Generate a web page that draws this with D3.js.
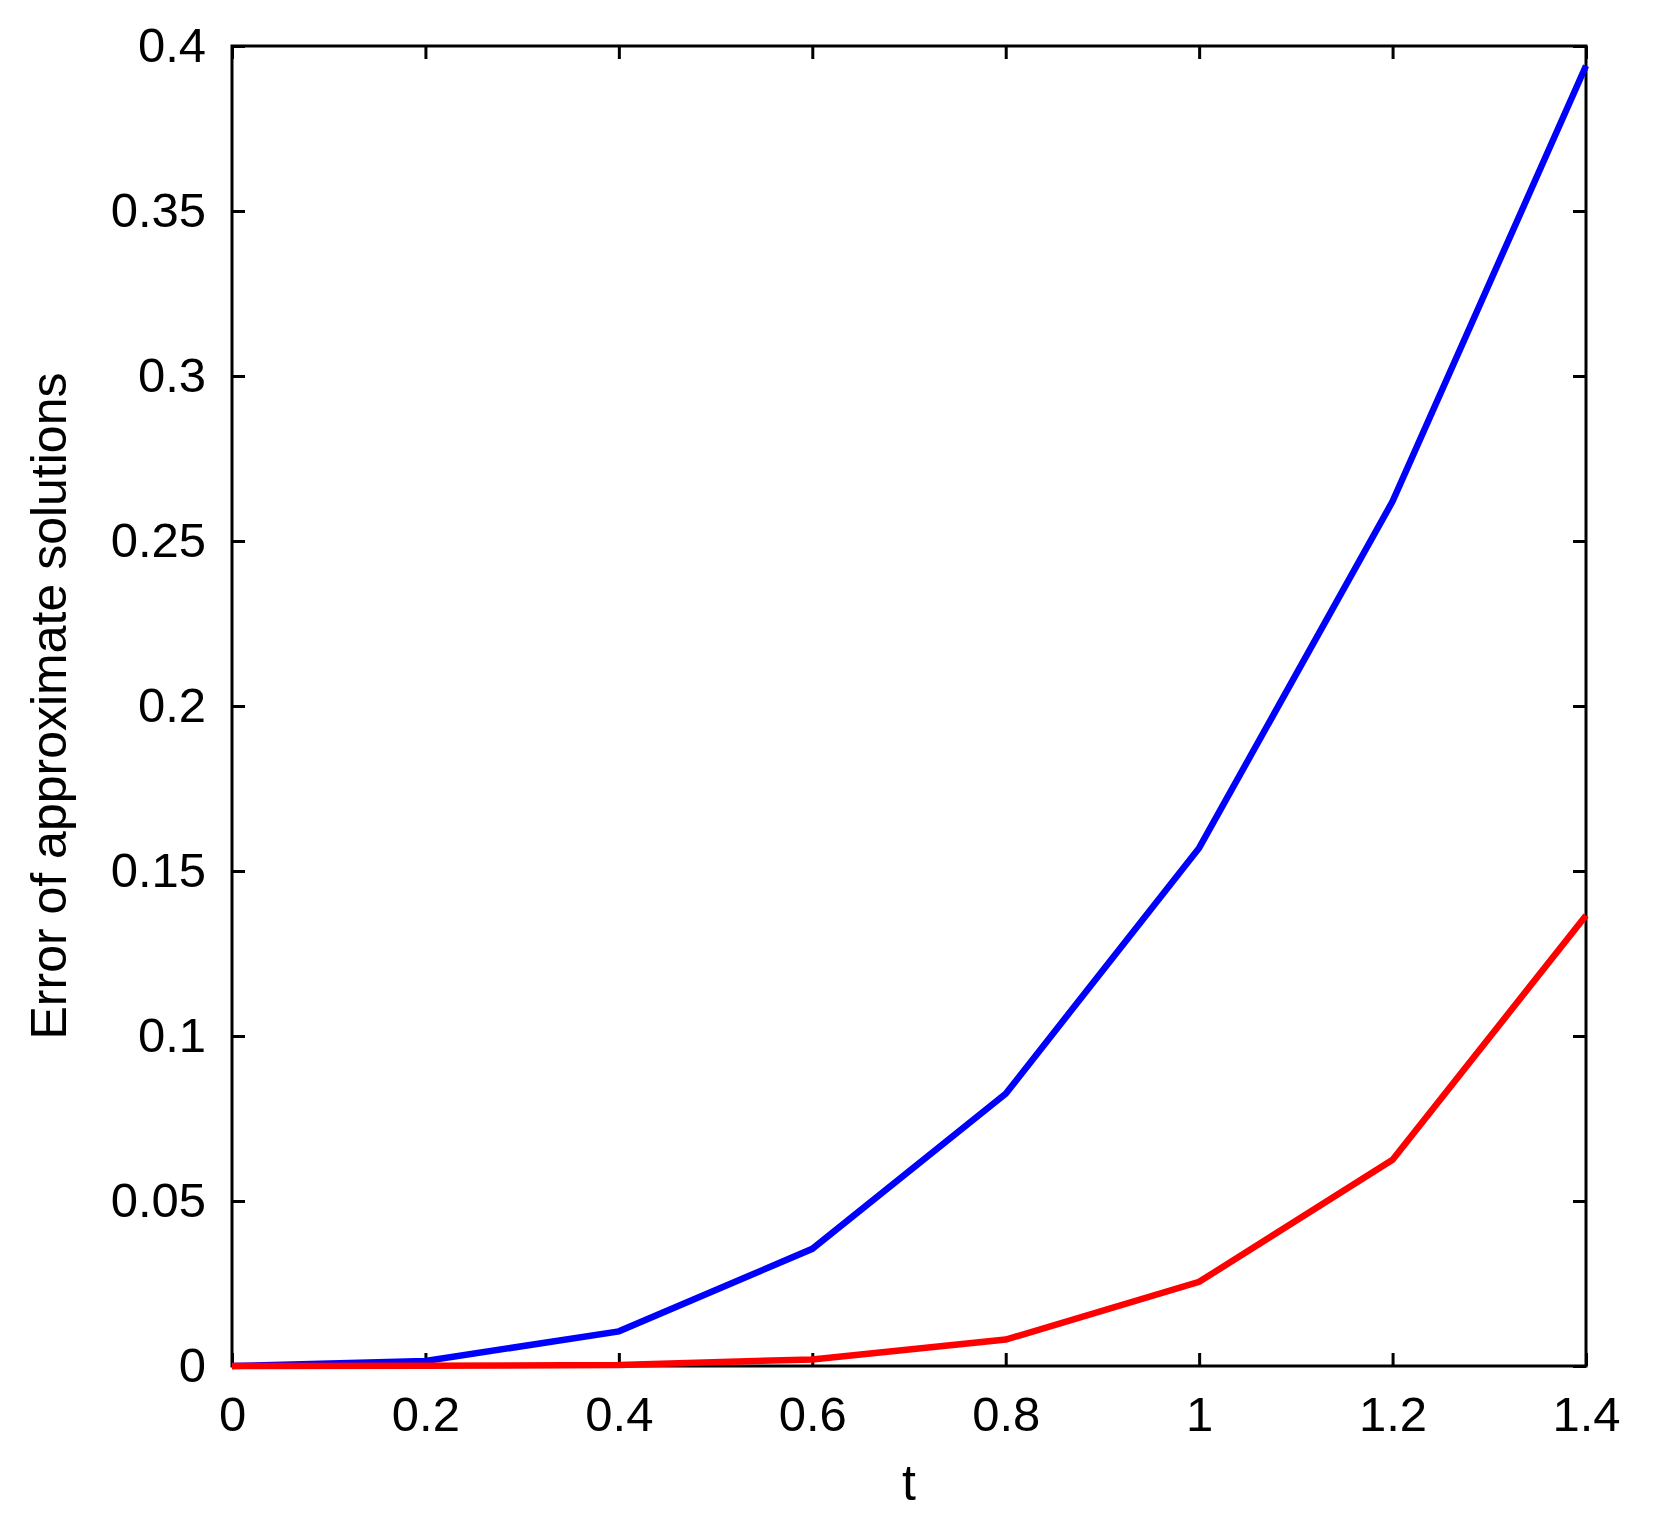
<!DOCTYPE html><html><head><meta charset="utf-8"><script src="https://cdn.jsdelivr.net/npm/d3@7"></script>
<style>body{margin:0;background:#fff}svg text{font-family:Helvetica,"Liberation Sans",Arial,sans-serif}</style></head><body><svg id="c" width="1661" height="1525"></svg><script>
const tValues=[0,0.2,0.4,0.6,0.8,1.0,1.2,1.4];
const blueErr=[0,0.0015,0.0105,0.0355,0.0825,0.157,0.262,0.394];
const redErr=[0,0.0001,0.0003,0.002,0.008,0.0255,0.0625,0.1365];
const xTicks=[0,0.2,0.4,0.6,0.8,1,1.2,1.4];
const yTicks=[0,0.05,0.1,0.15,0.2,0.25,0.3,0.35,0.4];
const L=232,R=1586,T=46,B=1366;
const svg=d3.select("#c");
const x=d3.scaleLinear().domain([0,1.4]).range([L,R]);
const y=d3.scaleLinear().domain([0,0.4]).range([B,T]);
const fmt=d=>String(d);
const g=svg.append("g");
function ax(gen,tr){const a=g.append("g").attr("transform",tr).call(gen);a.select(".domain").remove();a.selectAll("line").attr("stroke","#000").attr("stroke-width",3);a.selectAll("text").attr("font-size",49).attr("fill","#000");return a;}
ax(d3.axisBottom(x).tickValues(xTicks).tickFormat(fmt).tickSizeInner(-13).tickPadding(30),`translate(0,${B})`);
ax(d3.axisTop(x).tickValues(xTicks).tickFormat("").tickSizeInner(-13),`translate(0,${T})`);
ax(d3.axisLeft(y).tickValues(yTicks).tickFormat(fmt).tickSizeInner(-13).tickPadding(26),`translate(${L},0)`);
ax(d3.axisRight(y).tickValues(yTicks).tickFormat("").tickSizeInner(-13),`translate(${R},0)`);
g.append("rect").attr("x",L).attr("y",T).attr("width",R-L).attr("height",B-T).attr("fill","none").attr("stroke","#000").attr("stroke-width",3);
const line=d3.line().x((d,i)=>x(tValues[i])).y(d=>y(d));
svg.append("path").datum(blueErr).attr("d",line).attr("fill","none").attr("stroke","#0000ff").attr("stroke-width",6.5);
svg.append("path").datum(redErr).attr("d",line).attr("fill","none").attr("stroke","#ff0000").attr("stroke-width",6.5);
svg.append("text").attr("x",(L+R)/2).attr("y",1500).attr("text-anchor","middle").attr("font-size",50).text("t");
svg.append("text").attr("transform",`translate(66,${(T+B)/2}) rotate(-90)`).attr("text-anchor","middle").attr("font-size",50).text("Error of approximate solutions");
</script></body></html>
